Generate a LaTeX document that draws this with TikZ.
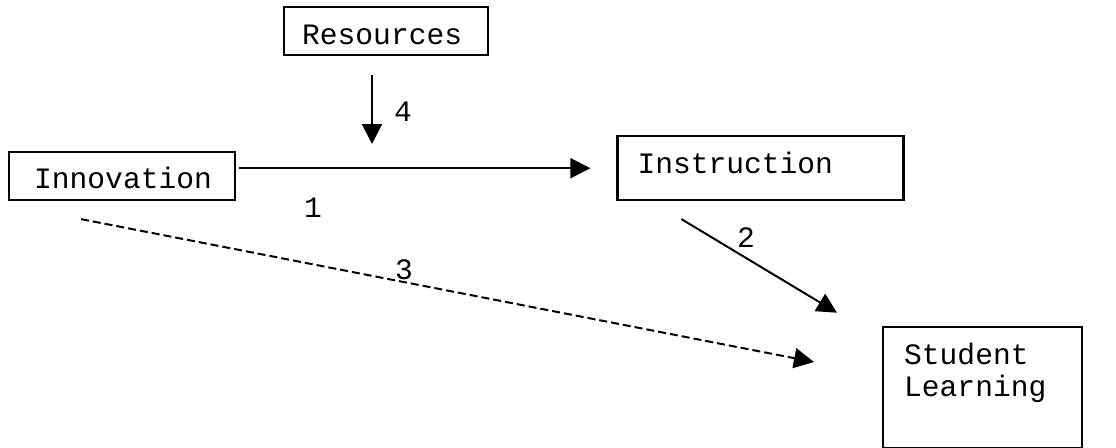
\documentclass[tikz,border=0pt]{standalone}
\usepackage{fontspec}
\newfontfamily\monofont{Liberation Mono}
\usetikzlibrary{arrows.meta,positioning,calc}

\begin{document}
\begin{tikzpicture}[x=1pt,y=-1pt,
  font=\monofont\fontsize{29.6}{32}\selectfont,
  box/.style={draw, line width=2.4pt, align=left, anchor=north west, inner ysep=0pt},
  link/.style={line width=2pt, -{Triangle[length=20pt,width=20pt]}},
  num/.style={inner sep=0pt}]
  \useasboundingbox (0,0) rectangle (1116,447);

  % factors
  \node[box, inner xsep=18pt, text width=168pt, text height=37pt, text depth=11pt] (res) at (283,6) {Resources};
  \node[box, inner xsep=25pt, text width=176pt, text height=36.7pt, text depth=11.3pt] (innov) at (8,151) {Innovation};
  \node[box, inner xsep=20pt, text width=246pt, text height=37pt, text depth=27pt, right=380pt of innov.south east, anchor=south west] (instr) {Instruction};
  \node[box, inner xsep=21pt, text width=157pt, text height=37.6pt, text depth=83.4pt] (learn) at (882,325.7) {Student\\Learning};

  % paths
  \coordinate (mod) at (372,144);
  \draw[link, shorten <=3pt, shorten >=26pt] (innov.east |- instr.west) -- (instr.west);
  \draw[link, shorten <=18.7pt] (res.south -| mod) -- (mod);
  \draw[link] ($(instr.south west)+(65,17.7)$) -- ($(learn.north west)+(-45,-13)$);
  \draw[link, dash pattern=on 8pt off 4pt] ($(innov.south west)+(73,17.7)$) -- ($(learn.north west)+(-68,36.3)$);

  % path numbers
  \node[num] (n4) at (403,112) {4};
  \node[num] (n1) at (313,208) {1};
  \node[num] (n2) at (746,238) {2};
  \node[num] (n3) at (404,270) {3};
\end{tikzpicture}
\end{document}
